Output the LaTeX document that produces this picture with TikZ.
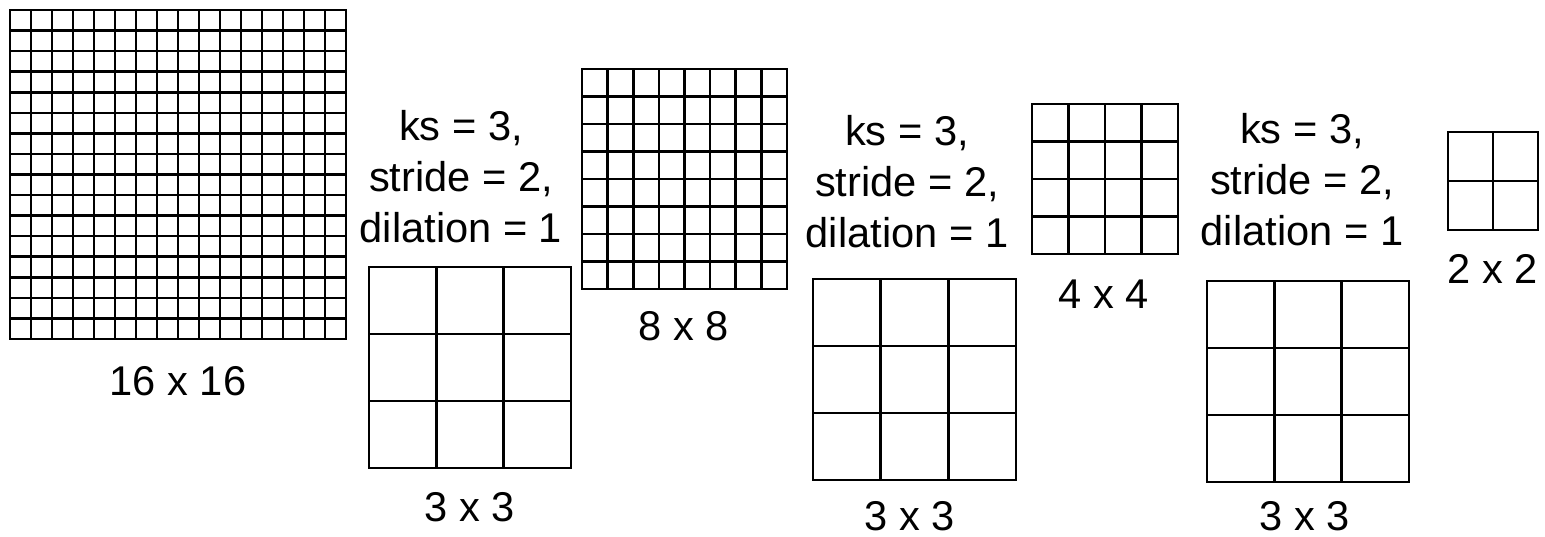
\documentclass[tikz,border=0pt]{standalone}
\usepackage{fontspec}
\setmainfont{Liberation Sans}
\begin{document}
\begin{tikzpicture}[x=0.5pt, y=-0.5pt,
  gridline/.style={line width=1.3pt, line cap=rect},
  sizelabel/.style={anchor=base, inner sep=0pt, font=\fontsize{20.8}{25.5}\selectfont},
  convlabel/.style={anchor=base, inner sep=0pt, align=center, font=\fontsize{20.8}{25.5}\selectfont},
]
\useasboundingbox (0,0) rectangle (1545,536);

% n x n grid from (x0,y0) to (x1,y1)
\def\drawgrid#1#2#3#4#5{%
  \draw[gridline] (#1,#2) rectangle (#3,#4);
  \foreach \k in {1,...,#5} {
    \draw[gridline] ({#1+\k*(#3-#1)/#5},#2) -- ({#1+\k*(#3-#1)/#5},#4);
    \draw[gridline] (#1,{#2+\k*(#4-#2)/#5}) -- (#3,{#2+\k*(#4-#2)/#5});
  }%
}

% ============================================================
% Feature maps
% ============================================================
\drawgrid{10}{10}{346}{339}{16}
\node[sizelabel] (map16) at (178,395) {16 x 16};

\drawgrid{582}{69}{787}{289}{8}
\node[sizelabel] (map8) at (684,340) {8 x 8};

\drawgrid{1032}{104}{1178}{254}{4}
\node[sizelabel] (map4) at (1104,308) {4 x 4};

\drawgrid{1448}{132}{1538}{230}{2}
\node[sizelabel] (map2) at (1493,283) {2 x 2};

% ============================================================
% Kernels (base = last line of the text)
% ============================================================
\node[convlabel] (conva) at (461,242) {ks = 3,\\stride = 2,\\dilation = 1};
\drawgrid{369}{267}{571}{468}{3}
\node[sizelabel] (kernela) at (470,521) {3 x 3};

\node[convlabel] (convb) at (907,247) {ks = 3,\\stride = 2,\\dilation = 1};
\drawgrid{813}{279}{1016}{480}{3}
\node[sizelabel] (kernelb) at (910,530) {3 x 3};

\node[convlabel] (convc) at (1302,245) {ks = 3,\\stride = 2,\\dilation = 1};
\drawgrid{1207}{281}{1409}{482}{3}
\node[sizelabel] (kernelc) at (1305,530) {3 x 3};

\end{tikzpicture}
\end{document}
